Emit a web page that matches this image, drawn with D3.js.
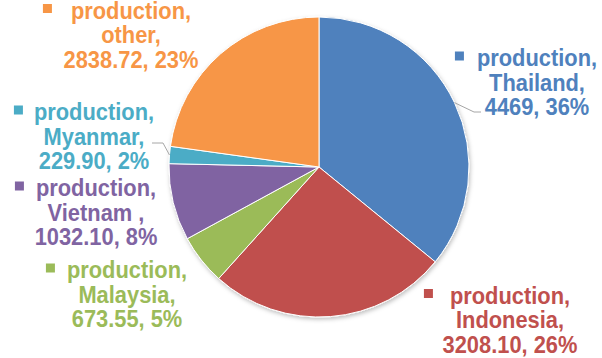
<!DOCTYPE html>
<html>
<head>
<meta charset="utf-8">
<script src="https://cdn.jsdelivr.net/npm/d3@7"></script>
<style>
  body { margin: 0; background: #fff; }
  svg { display: block; }
  text { font-family: "Liberation Sans", Arial, sans-serif; font-weight: bold; font-size: 23.5px; }
</style>
</head>
<body>
<svg id="chart" width="602" height="358"></svg>
<script>
// data, clockwise from 12 o'clock
let seriesName = "production";
let categories = ["Thailand", "Indonesia", "Malaysia", "Vietnam ", "Myanmar", "other"];
let values = [4469, 3208.10, 673.55, 1032.10, 229.90, 2838.72];
let valueLabels = ["4469", "3208.10", "673.55", "1032.10", "229.90", "2838.72"];
let colors = ["#4F81BD", "#C0504D", "#9BBB59", "#8064A2", "#4BACC6", "#F79646"];

// where each label block sits (center x, first line center y, gap before legend key)
let labelLayout = [
    {x: 537, y: 58, gap: 13},
    {x: 510, y: 295.5, gap: 17},
    {x: 127, y: 270, gap: 12},
    {x: 96, y: 188, gap: 12},
    {x: 94, y: 112, gap: 11},
    {x: 131, y: 10.5, gap: 19}
];
let leaders = {0: [[474, 112], [481, 112]], 4: [[163, 143], [152, 143]]};

let svg = d3.select("#chart");
let cx = 319, cy = 167, radius = 150;
let lineStep = 24.4;
let squeeze = 0.93;

let defs = svg.append("defs");
let f = defs.append("filter").attr("id", "shadow")
    .attr("x", "-10%").attr("y", "-10%").attr("width", "120%").attr("height", "120%");
f.append("feDropShadow").attr("dx", 1).attr("dy", 2)
    .attr("stdDeviation", 2).attr("flood-color", "#000").attr("flood-opacity", 0.25);

let total = d3.sum(values);
let pie = d3.pie().sort(null).value(d => d)
    .startAngle(0).endAngle(2 * Math.PI);
let arcs = pie(values);
let arc = d3.arc().innerRadius(0).outerRadius(radius);

let g = svg.append("g").attr("transform", "translate(" + cx + "," + cy + ")");
g.append("g").attr("filter", "url(#shadow)")
    .selectAll("path")
    .data(arcs)
    .enter().append("path")
    .attr("d", arc)
    .attr("fill", (d, i) => colors[i])
    .attr("stroke", "#fff")
    .attr("stroke-width", 1);

// leader lines
for (let key in leaders) {
    let a = arcs[key];
    let mid = (a.startAngle + a.endAngle) / 2;
    let pts = [[cx + radius * Math.sin(mid), cy - radius * Math.cos(mid)]].concat(leaders[key]);
    svg.append("path")
        .attr("d", d3.line()(pts))
        .attr("fill", "none")
        .attr("stroke", "#A6A6A6")
        .attr("stroke-width", 1);
}

// data labels
let labels = svg.append("g");
categories.forEach(function (cat, i) {
    let pos = labelLayout[i];
    let pct = Math.round(values[i] / total * 100) + "%";
    let lines = [seriesName + ",", cat + ",", valueLabels[i] + ", " + pct];
    let lg = labels.append("g");
    let firstWidth = 0;
    lines.forEach(function (t, k) {
        let txt = lg.append("text")
            .attr("transform", "translate(" + pos.x + "," + (pos.y + k * lineStep) + ") scale(" + squeeze + ",1)")
            .attr("dy", "0.35em")
            .attr("text-anchor", "middle")
            .attr("fill", colors[i])
            .text(t);
        if (k == 0) firstWidth = txt.node().getBBox().width * squeeze;
    });
    lg.append("rect")
        .attr("x", pos.x - firstWidth / 2 - pos.gap - 9)
        .attr("y", pos.y - 2 - 4.5)
        .attr("width", 9)
        .attr("height", 9)
        .attr("fill", colors[i]);
});
</script>
</body>
</html>
